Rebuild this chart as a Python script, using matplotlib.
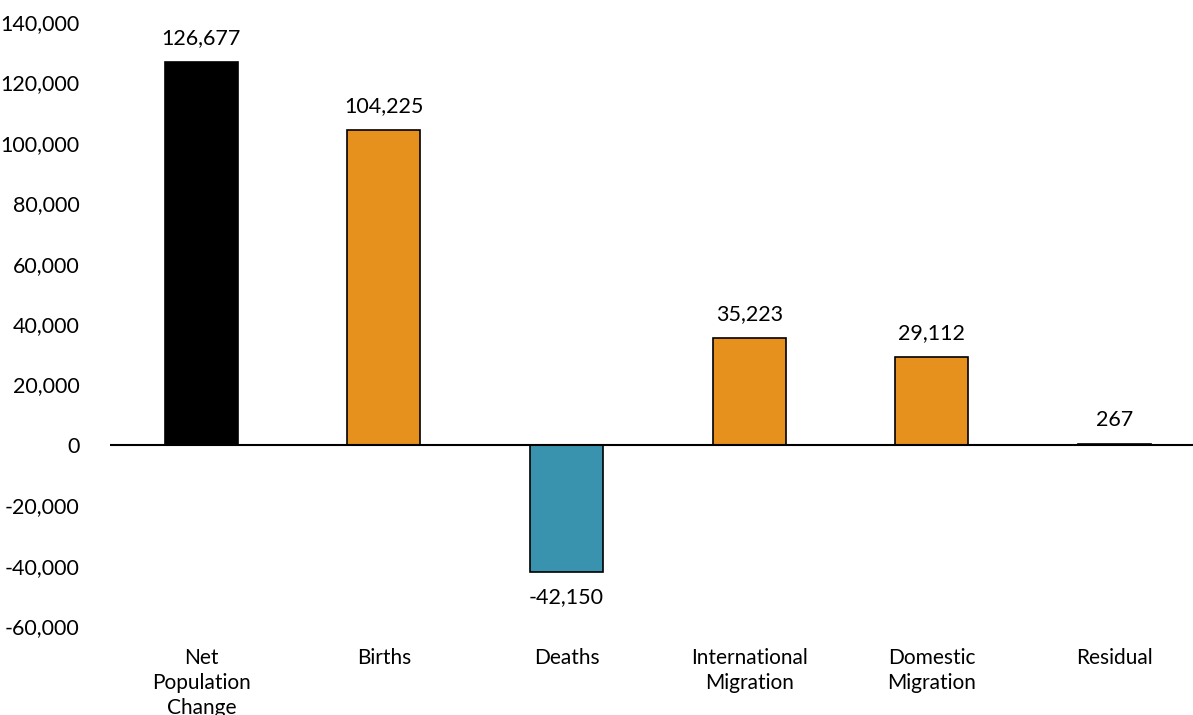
import matplotlib.pyplot as plt
from matplotlib.ticker import FuncFormatter

categories = ['Net\nPopulation\nChange', 'Births', 'Deaths',
              'International\nMigration', 'Domestic\nMigration', 'Residual']
values = [126677, 104225, -42150, 35223, 29112, 267]
colors = ['#000000', '#E6901E', '#3A93AE', '#E6901E', '#E6901E', '#E6901E']

plt.rcParams['font.family'] = ['Lato', 'DejaVu Sans']

fig = plt.figure(figsize=(11.93, 7.15), dpi=100)
ax = fig.add_axes([110 / 1193, (715 - 626) / 715, 1083 / 1193, 604 / 715])

x = range(len(categories))
ax.bar(x, values, width=0.4, color=colors, edgecolor='black', linewidth=1.2, zorder=2)
ax.axhline(0, color='black', linewidth=1.5, zorder=3)

for i, v in enumerate(values):
    if v >= 0:
        ax.annotate(f'{v:,}', (i, v), xytext=(0, 10), textcoords='offset points',
                    ha='center', va='bottom', fontsize=15.5)
    else:
        ax.annotate(f'{v:,}', (i, v), xytext=(0, -11), textcoords='offset points',
                    ha='center', va='top', fontsize=15.5)

ax.set_ylim(-60000, 140000)
ax.set_xlim(-0.5, 5.43)
ax.set_yticks(range(-60000, 140001, 20000))
ax.yaxis.set_major_formatter(FuncFormatter(lambda v, p: f'{int(v):,}'))
ax.set_xticks(list(x))
ax.set_xticklabels(categories, fontsize=15, linespacing=1.3, va='top')
ax.tick_params(axis='y', labelsize=15.5, length=0, pad=22)
ax.tick_params(axis='x', length=0, pad=16)
for s in ax.spines.values():
    s.set_visible(False)

plt.savefig('out.png', dpi=100)
